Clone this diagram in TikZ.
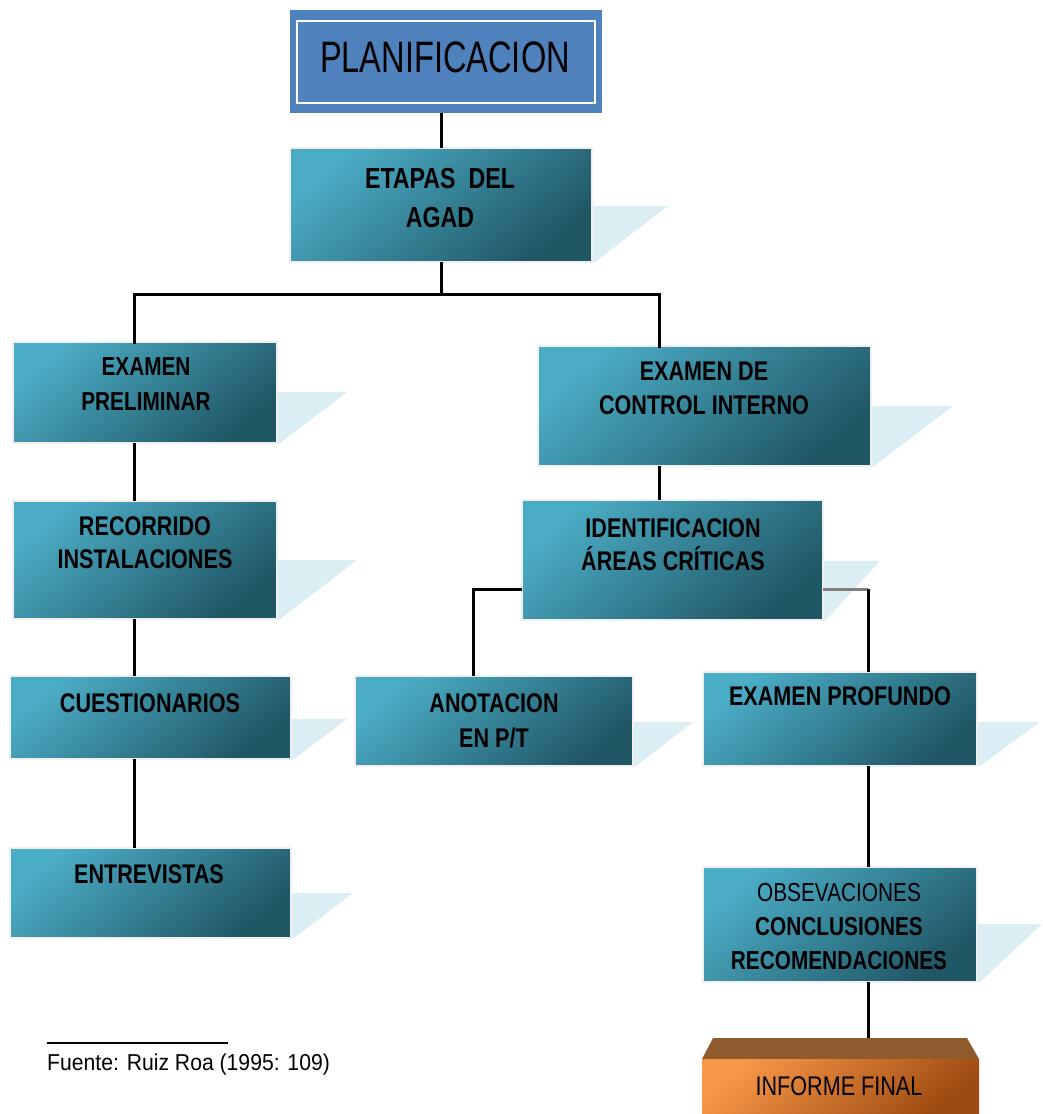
\documentclass[tikz,border=0pt]{standalone}
\usepackage{fontspec}
\setmainfont{Liberation Sans}
\newfontfamily\fa{Liberation Sans}[FakeStretch=0.8]
\newfontfamily\fp{Liberation Sans}[FakeStretch=0.74]
\newfontfamily\ff{Liberation Sans}[FakeStretch=0.92]
\usetikzlibrary{backgrounds}
\definecolor{planblue}{HTML}{4F81BD}
\definecolor{tealA}{HTML}{4BACC6}
\definecolor{tealB}{HTML}{3A8CA2}
\definecolor{tealC}{HTML}{205765}
\definecolor{shadowc}{HTML}{DAEEF3}
\definecolor{browntop}{HTML}{8E5A2E}
\definecolor{orA}{HTML}{F79646}
\definecolor{orB}{HTML}{D97A35}
\definecolor{orC}{HTML}{9E4B12}
\tikzset{
  tealbox/.style={rectangle, inner sep=0pt, outer sep=0pt, draw=gray!12, line width=1.2pt,
    top color=tealA, middle color=tealB, bottom color=tealC, shading angle=40},
  lbl/.style={inner sep=0pt, align=center, anchor=base, text=black,
    font=\fa\bfseries\fontsize{27}{34}\selectfont},
  conn/.style={line width=3pt, draw=black},
}
\newcommand\tbox[7]{%
  \begin{pgfonlayer}{background}
    \fill[shadowc] (#4-4,#6) -- (#7,#6) -- (#4+3,#5) -- (#4-4,#5) -- cycle;
  \end{pgfonlayer}
  \node[tealbox, minimum width={#4-#2}, minimum height={#5-#3}, anchor=north west] (#1) at (#2,#3) {};
}
\begin{document}
\begin{tikzpicture}[x=1pt,y=-1pt]
\useasboundingbox (0,0) rectangle (1042,1114);

% top box
\node[rectangle, fill=planblue, inner sep=0pt, outer sep=0pt, minimum width=312, minimum height=103, anchor=north west] (plan) at (290,10) {};
\draw[white, line width=1.8pt] (297,21) rectangle (595,103);
\node[inner sep=0pt, anchor=base, font=\fp\fontsize{44}{50}\selectfont] (tplan) at (445,72) {PLANIFICACION};

% boxes
\tbox{etapas}{290}{148}{592}{262}{206}{668}
\tbox{prelim}{13}{342}{277}{443}{392}{347}
\tbox{control}{538}{346}{871}{466}{406}{953}
\tbox{recorr}{13}{501}{277}{619}{560}{357}
\tbox{ident}{522}{500}{823}{620}{561}{880}
\tbox{cuest}{10}{676}{291}{759}{719}{347}
\tbox{anot}{355}{676}{633}{766}{722}{693}
\tbox{prof}{703}{672}{977}{766}{722}{1040}
\tbox{entrev}{10}{848}{291}{938}{893}{353}
\tbox{obs}{703}{867}{977}{982}{924}{1042}

% informe final
\fill[browntop] (713,1038) -- (967,1038) -- (979,1059) -- (702,1059) -- cycle;
\coordinate (inftop) at (840,1038);
\node[rectangle, inner sep=0pt, outer sep=0pt, minimum width=277, minimum height=55, anchor=north west,
  top color=orA, middle color=orB, bottom color=orC, shading angle=40] (inf) at (702,1059) {};
\node[inner sep=0pt, anchor=base, font=\fa\fontsize{27}{30}\selectfont] (tinf) at (839,1095) {INFORME FINAL};

% texts (base = baseline of last line)
\node[lbl, font=\fa\bfseries\fontsize{29}{39}\selectfont] (tetapas) at (440,227) {ETAPAS\ \ DEL\\AGAD};
\node[lbl, font=\fa\bfseries\fontsize{26}{35}\selectfont] (tprelim) at (146,410) {EXAMEN\\PRELIMINAR};
\node[lbl] (tcontrol) at (704,414) {EXAMEN DE\\CONTROL INTERNO};
\node[lbl, font=\fa\bfseries\fontsize{27}{33}\selectfont] (trecorr) at (145,568) {RECORRIDO\\INSTALACIONES};
\node[lbl, font=\fa\bfseries\fontsize{27}{33}\selectfont] (tident) at (673,570) {IDENTIFICACION\\ÁREAS CRÍTICAS};
\node[lbl] (tcuest) at (150,712) {CUESTIONARIOS};
\node[lbl, font=\fa\bfseries\fontsize{27}{35}\selectfont] (tanot) at (494,747) {ANOTACION\\EN P/T};
\node[lbl] (tprof) at (840,705) {EXAMEN PROFUNDO};
\node[lbl] (tentrev) at (149,883) {ENTREVISTAS};
\node[lbl, font=\fa\fontsize{26}{34}\selectfont] (tobs) at (839,969) {OBSEVACIONES\\{\bfseries CONCLUSIONES}\\{\bfseries RECOMENDACIONES}};

% connectors
\coordinate (lx) at (134,0);
\coordinate (rx) at (659,0);
\coordinate (bar) at (0,294);
\coordinate (ax) at (473,0);
\coordinate (px) at (868,0);
\draw[conn] (etapas.north |- plan.south) -- (etapas.north);
\draw[conn] (etapas.south) -- (etapas.south |- bar);
\draw[conn, line cap=rect] (lx |- prelim.north) -- (lx |- bar) -- (rx |- bar) -- (rx |- control.north);
\draw[conn] (lx |- prelim.south) -- (lx |- recorr.north);
\draw[conn] (lx |- recorr.south) -- (lx |- cuest.north);
\draw[conn] (lx |- cuest.south) -- (lx |- entrev.north);
\draw[conn] (rx |- control.south) -- (rx |- ident.north);
\coordinate (iy) at (0,589);
\draw[conn] (ident.west |- iy) -- (ax |- iy) -- (ax |- anot.north);
\draw[line width=3pt, draw=gray] (ident.east |- iy) -- (px |- iy);
\draw[conn] (px |- iy) -- (px |- prof.north);
\draw[conn] (px |- prof.south) -- (px |- obs.north);
\draw[conn] (px |- obs.south) -- (px |- inftop);

% source
\coordinate (srcA) at (47,1043);
\coordinate (srcB) at (228,1043);
\draw[line width=2pt] (srcA) -- (srcB);
\node[inner sep=0pt, anchor=base west, font=\ff\fontsize{23}{28}\selectfont] (src) at (47,1070) {Fuente: Ruiz Roa (1995: 109)};
\end{tikzpicture}
\end{document}
